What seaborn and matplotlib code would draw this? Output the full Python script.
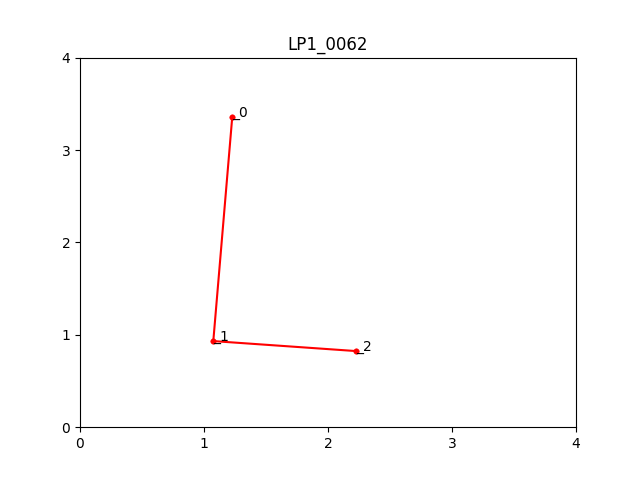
import matplotlib
matplotlib.use("Agg")
import matplotlib.pyplot as plt
import seaborn as sns
import pandas as pd

xs = [1.228, 1.075, 2.225]
ys = [3.36, 0.932, 0.824]
labels = ["_0", "_1", "_2"]

sns.set_style("ticks", rc={"text.color": "black", "axes.labelcolor": "black",
                           "xtick.color": "black", "ytick.color": "black",
                           "axes.edgecolor": "black"})
plt.rcParams['font.family'] = ['DejaVu Sans']
fig, ax = plt.subplots(figsize=(6.4, 4.8), dpi=100)
df = pd.DataFrame({"x": xs, "y": ys})
sns.lineplot(data=df, x="x", y="y", sort=False, color="red", ax=ax, estimator=None)
sns.scatterplot(data=df, x="x", y="y", color="red", s=16, edgecolor="red", ax=ax)
for x, y, l in zip(xs, ys, labels):
    ax.text(x, y, l, fontsize=10, color="black")
ax.set_xlim(0, 4)
ax.set_ylim(0, 4)
ax.set_xticks([0, 1, 2, 3, 4])
ax.set_yticks([0, 1, 2, 3, 4])
ax.set_xlabel("")
ax.set_ylabel("")
ax.set_title("LP1_0062", color="black")
for s in ax.spines.values():
    s.set_visible(True)
fig.savefig("out.png")
